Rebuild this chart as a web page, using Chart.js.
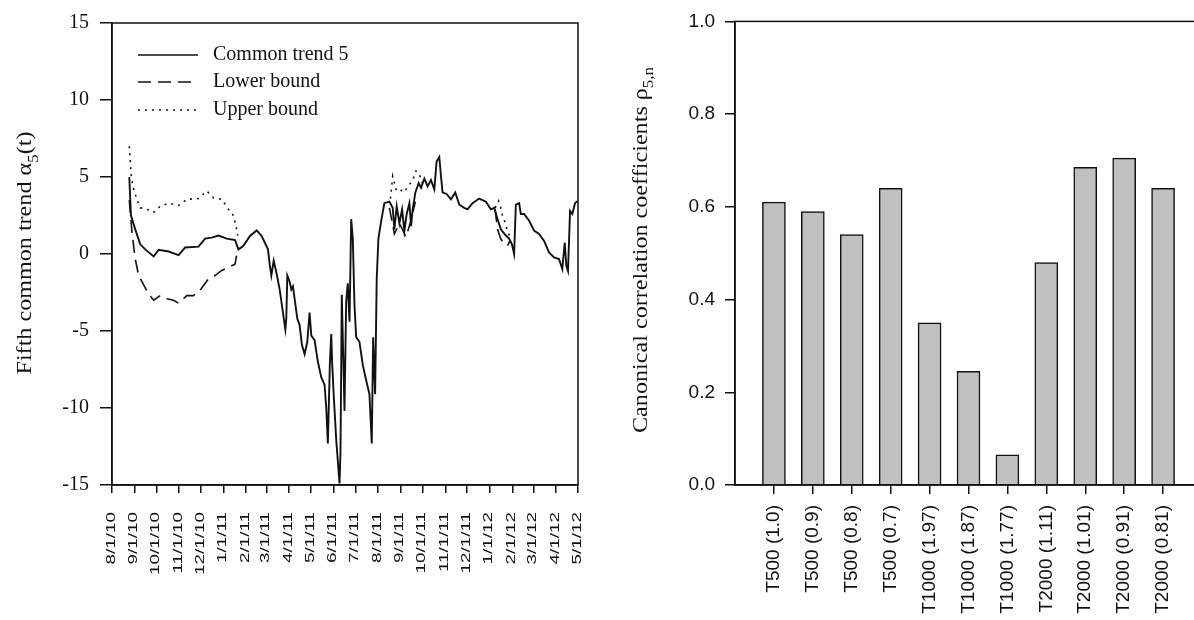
<!DOCTYPE html>
<html>
<head>
<meta charset="utf-8">
<script src="https://cdn.jsdelivr.net/npm/chart.js@4.4.1/dist/chart.umd.min.js"></script>
<style>
  html, body { margin: 0; padding: 0; background: #fff; overflow: hidden; }
  body { width: 1194px; height: 620px; position: relative; }
  #trendBox { position: absolute; left: 0; top: 0; width: 600px; height: 620px; }
  #corrBox { position: absolute; left: 600px; top: 0; width: 620px; height: 620px; }
</style>
</head>
<body>
<div id="trendBox"><canvas id="trendChart" width="600" height="620"></canvas></div>
<div id="corrBox"><canvas id="corrChart" width="620" height="620"></canvas></div>
<script>
'use strict';

// left panel: days counted from 8/1/10
const monthTickDay = [0, 31, 61, 92, 122, 153, 184, 212, 243, 273, 304, 334, 365, 396, 426, 457, 487, 518, 549, 578, 609, 639];
const monthTickLabel = ['8/1/10', '9/1/10', '10/1/10', '11/1/10', '12/1/10', '1/1/11', '2/1/11', '3/1/11', '4/1/11', '5/1/11', '6/1/11',
  '7/1/11', '8/1/11', '9/1/11', '10/1/11', '11/1/11', '12/1/11', '1/1/12', '2/1/12', '3/1/12', '4/1/12', '5/1/12'];

const trendDay = [23.7, 26.0, 31.9, 38.7, 45.6, 57.1, 63.9, 77.6, 91.3, 100.3,
  118.6, 127.7, 136.8, 146.0, 157.4, 168.7, 173.4, 180.2, 189.2, 198.4,
  205.2, 213.9, 216.2, 218.5, 221.7, 225.4, 229.9, 234.4, 237.7, 239.0,
  240.4, 243.6, 245.9, 248.1, 250.4, 254.1, 257.2, 260.4, 264.1, 267.8,
  270.9, 273.3, 277.8, 282.3, 286.9, 291.5, 293.8, 296.0, 298.7, 300.6,
  302.0, 304.2, 307.5, 309.6, 312.0, 313.3, 315.1, 317.0, 318.8, 321.1,
  323.3, 325.7, 328.0, 330.2, 332.5, 334.8, 339.3, 343.9, 348.5, 353.0,
  356.2, 358.1, 360.8, 363.0, 365.3, 368.1, 371.2, 373.5, 380.4, 384.9,
  387.2, 390.4, 394.1, 397.8, 400.9, 404.1, 407.8, 410.1, 412.3, 416.0,
  420.5, 423.8, 428.3, 432.8, 437.4, 442.0, 445.1, 448.8, 451.1, 453.3,
  458.8, 464.8, 470.7, 476.2, 483.0, 487.5, 494.4, 503.5, 512.7, 519.5,
  524.1, 528.6, 533.2, 540.1, 544.6, 548.3, 551.4, 553.8, 558.3, 560.6,
  565.1, 572.0, 578.8, 585.6, 592.5, 599.3, 606.2, 613.0, 617.5, 620.8,
  623.0, 625.3, 628.1, 631.2, 634.9, 637.2, 639];
const trendValue = [5.0, 2.5, 1.6, 0.63, 0.3, -0.16, 0.27, 0.16, -0.07, 0.42,
  0.48, 1.0, 1.06, 1.2, 1.0, 0.91, 0.3, 0.53, 1.17, 1.53,
  1.17, 0.3, -0.66, -1.4, -0.44, -1.2, -2.3, -3.8, -4.9, -4.2,
  -1.4, -1.8, -2.3, -2.1, -2.9, -4.2, -4.6, -5.9, -6.5, -5.7,
  -3.8, -5.3, -5.6, -7.0, -8.0, -8.5, -10, -12.3, -7.2, -5.2,
  -7.2, -9.3, -12.1, -13.4, -14.9, -12.9, -2.65, -6.5, -10.2, -3.1,
  -1.9, -4.4, 2.27, 0.98, -3.3, -5.4, -5.7, -7.2, -8.2, -9.1,
  -12.3, -5.4, -9.1, -1.6, 0.98, 1.84, 2.7, 3.3, 3.4, 3.0,
  1.6, 3.1, 2.0, 2.9, 1.5, 2.6, 3.3, 1.8, 2.9, 4.0,
  4.6, 4.3, 4.9, 4.4, 4.8, 4.2, 6.0, 6.3, 5.05, 4.0,
  3.9, 3.55, 4.0, 3.2, 3.0, 2.9, 3.3, 3.6, 3.4, 2.9,
  3.0, 2.27, 1.6, 1.2, 1.0, 0.65, 0.0, 3.2, 3.3, 2.6,
  2.6, 2.16, 1.52, 1.3, 0.85, 0.1, -0.22, -0.33, -0.97, 0.74,
  -0.76, -1.1, 2.8, 2.6, 3.3, 3.4, 3.4];

// bounds only where they leave the trend (null = gap)
const lowerDay = [23.7, 27.4, 31.9, 36.5, 43.4, 50.2, 57.1, 66.1, 75.3, 84.4, 91.3, 102.6, 111.8, 120.8, 132.3, 141.3, 150.5, 159.7, 168.7, 172.4,
  300, 380.4, 387.2, 394.1, 403.2, 410.1, 416.0,
  470, 525.4, 528.6, 533.2, 537.7, 540.1, 543.2, 546.0];
const lowerValue = [3.5, 1.4, -0.33, -1.4, -2.0, -2.6, -3.0, -2.7, -2.9, -3.0, -3.2, -2.7, -2.7, -2.35, -1.6, -1.4, -1.07, -0.87, -0.66, 0.3,
  null, 3.0, 1.3, 2.0, 1.1, 2.2, 3.4,
  null, 2.9, 1.6, 0.98, 0.65, 0.55, 0.6, 0.9];

const upperDay = [23.7, 26.4, 29.7, 34.2, 38.7, 45.6, 57.1, 66.1, 77.6, 91.3, 102.6, 118.6, 130.0, 139.2, 150.5, 159.7, 166.5, 171.0, 172.4,
  300, 381.8, 384.9, 389.5, 394.1, 398.6, 403.2, 407.8, 412.3, 416.9, 421.4, 425.5,
  470, 525.4, 530.0, 533.2, 535.4, 539.1, 542.3, 546.0];
const upperValue = [7.0, 5.05, 4.2, 3.55, 3.0, 2.95, 2.7, 3.1, 3.3, 3.15, 3.55, 3.6, 4.1, 3.65, 3.55, 2.9, 2.5, 1.6, 1.2,
  null, 3.6, 5.05, 4.2, 4.3, 4.0, 4.2, 4.5, 4.8, 5.4, 5.2, 4.6,
  null, 3.0, 3.45, 3.0, 2.5, 2.05, 1.5, 1.1];

// right panel
const barLabels = ['T500 (1.0)', 'T500 (0.9)', 'T500 (0.8)', 'T500 (0.7)', 'T1000 (1.97)', 'T1000 (1.87)',
  'T1000 (1.77)', 'T2000 (1.11)', 'T2000 (1.01)', 'T2000 (0.91)', 'T2000 (0.81)'];
const barValues = [0.61, 0.59, 0.54, 0.64, 0.35, 0.245, 0.065, 0.48, 0.685, 0.705, 0.64];

const INK = '#111';
const SERIF = '"Liberation Serif", "Times New Roman", serif';
const SANS = '"Liberation Sans", Arial, sans-serif';

function pts(days, vals) {
  return days.map((d, i) => ({ x: d, y: vals[i] }));
}

// rotated axis title with a subscript, stretched to a target length
function drawVerticalTitle(ctx, cx, cy, main, sub, tail, size, target) {
  const big = size + 'px ' + SERIF;
  const small = Math.round(size * 0.7) + 'px ' + SERIF;
  ctx.save();
  ctx.font = big;
  const w1 = ctx.measureText(main).width;
  const w3 = ctx.measureText(tail).width;
  ctx.font = small;
  const w2 = ctx.measureText(sub).width;
  const total = w1 + w2 + w3;
  ctx.translate(cx, cy);
  ctx.rotate(-Math.PI / 2);
  ctx.scale(target / total, 1);
  ctx.fillStyle = INK;
  let x = -total / 2;
  const base = size * 0.35;
  ctx.font = big; ctx.fillText(main, x, base); x += w1;
  ctx.font = small; ctx.fillText(sub, x, base + size * 0.3); x += w2;
  ctx.font = big; ctx.fillText(tail, x, base);
  ctx.restore();
}

const framePlugin = {
  id: 'frame',
  afterDraw(chart) {
    const a = chart.chartArea, ctx = chart.ctx;
    ctx.save();
    ctx.strokeStyle = INK;
    ctx.lineWidth = 1.5;
    ctx.strokeRect(a.left, a.top, a.right - a.left, a.bottom - a.top);
    ctx.restore();
  }
};

const trendExtras = {
  id: 'trendExtras',
  afterDraw(chart) {
    const ctx = chart.ctx;
    const xs = chart.scales.x;
    // date labels, read upward
    ctx.save();
    ctx.fillStyle = INK;
    ctx.font = '13px ' + SANS;
    ctx.textAlign = 'right';
    ctx.textBaseline = 'middle';
    for (let i = 0; i < monthTickDay.length; i++) {
      const px = xs.getPixelForValue(monthTickDay[i]);
      ctx.save();
      ctx.translate(px - 1, 512);
      ctx.rotate(-Math.PI / 2);
      ctx.scale(1.45, 1);
      ctx.fillText(monthTickLabel[i], 0, 0);
      ctx.restore();
    }
    ctx.restore();

    // legend
    const items = [
      { label: 'Common trend 5', dash: [], y: 55 },
      { label: 'Lower bound', dash: [13, 7], y: 82 },
      { label: 'Upper bound', dash: [2, 5], y: 110 }
    ];
    ctx.save();
    ctx.strokeStyle = INK;
    ctx.fillStyle = INK;
    ctx.lineWidth = 1.7;
    ctx.font = '20px ' + SERIF;
    ctx.textBaseline = 'middle';
    items.forEach(it => {
      ctx.setLineDash(it.dash);
      ctx.beginPath();
      ctx.moveTo(138, it.y);
      ctx.lineTo(198, it.y);
      ctx.stroke();
      ctx.fillText(it.label, 213, it.y);
    });
    ctx.restore();

    drawVerticalTitle(ctx, 24, 253, 'Fifth common trend \u03b1', '5', '(t)', 21, 243);
  }
};

new Chart(document.getElementById('trendChart'), {
  type: 'line',
  data: {
    datasets: [
      { label: 'Common trend 5', data: pts(trendDay, trendValue), borderColor: INK, borderWidth: 1.9, pointRadius: 0, tension: 0 },
      { label: 'Lower bound', data: pts(lowerDay, lowerValue), borderColor: INK, borderWidth: 1.6, borderDash: [13, 7], pointRadius: 0, tension: 0, spanGaps: false },
      { label: 'Upper bound', data: pts(upperDay, upperValue), borderColor: INK, borderWidth: 1.6, borderDash: [2, 5], pointRadius: 0, tension: 0, spanGaps: false }
    ]
  },
  options: {
    responsive: false,
    animation: false,
    devicePixelRatio: 1,
    layout: { padding: { top: 18, right: 22, left: 0, bottom: 0 } },
    plugins: { legend: { display: false }, tooltip: { enabled: false } },
    scales: {
      x: {
        type: 'linear', min: 0, max: 639,
        afterBuildTicks: s => { s.ticks = monthTickDay.map(v => ({ value: v })); },
        afterFit: s => { s.height = 135; s.paddingLeft = 0; s.paddingRight = 0; },
        ticks: { display: false },
        grid: { drawOnChartArea: false, tickLength: 8, color: INK, lineWidth: 1.5 },
        border: { color: INK, width: 1.5 }
      },
      y: {
        min: -15, max: 15,
        afterFit: s => { s.width = 112; },
        ticks: { stepSize: 5, padding: 11, color: INK, font: { family: SERIF, size: 20 } },
        grid: { drawOnChartArea: false, tickLength: 12, color: INK, lineWidth: 1.5 },
        border: { color: INK, width: 1.5 }
      }
    }
  },
  plugins: [framePlugin, trendExtras]
});

const corrExtras = {
  id: 'corrExtras',
  afterDraw(chart) {
    drawVerticalTitle(chart.ctx, 40, 250, 'Canonical correlation coefficients \u03c1', '5,n', '', 20, 366);
  }
};

new Chart(document.getElementById('corrChart'), {
  type: 'bar',
  data: {
    labels: [''].concat(barLabels, ['']),
    datasets: [{
      data: [null].concat(barValues, [null]),
      backgroundColor: '#c0c0c0',
      borderColor: INK,
      borderWidth: 1.5,
      barThickness: 23
    }]
  },
  options: {
    responsive: false,
    animation: false,
    devicePixelRatio: 1,
    layout: { padding: { top: 18, right: 18, left: 0, bottom: 0 } },
    plugins: { legend: { display: false }, tooltip: { enabled: false } },
    scales: {
      x: {
        offset: false,
        afterFit: s => { s.height = 135; s.paddingLeft = 0; s.paddingRight = 0; },
        ticks: { autoSkip: false, minRotation: 90, maxRotation: 90, padding: 11, color: INK, font: { family: SANS, size: 19 } },
        grid: {
          offset: false, drawOnChartArea: false, tickLength: 9, lineWidth: 1.5,
          color: c => (c.index === 0 || c.index === barLabels.length + 1) ? 'rgba(0,0,0,0)' : INK
        },
        border: { color: INK, width: 1.5 }
      },
      y: {
        min: 0, max: 1,
        afterFit: s => { s.width = 135; },
        ticks: { stepSize: 0.2, padding: 10, color: INK, font: { family: SANS, size: 19 }, callback: v => v.toFixed(1) },
        grid: { drawOnChartArea: false, tickLength: 10, color: INK, lineWidth: 1.5 },
        border: { color: INK, width: 1.5 }
      }
    }
  },
  plugins: [framePlugin, corrExtras]
});
</script>
</body>
</html>
